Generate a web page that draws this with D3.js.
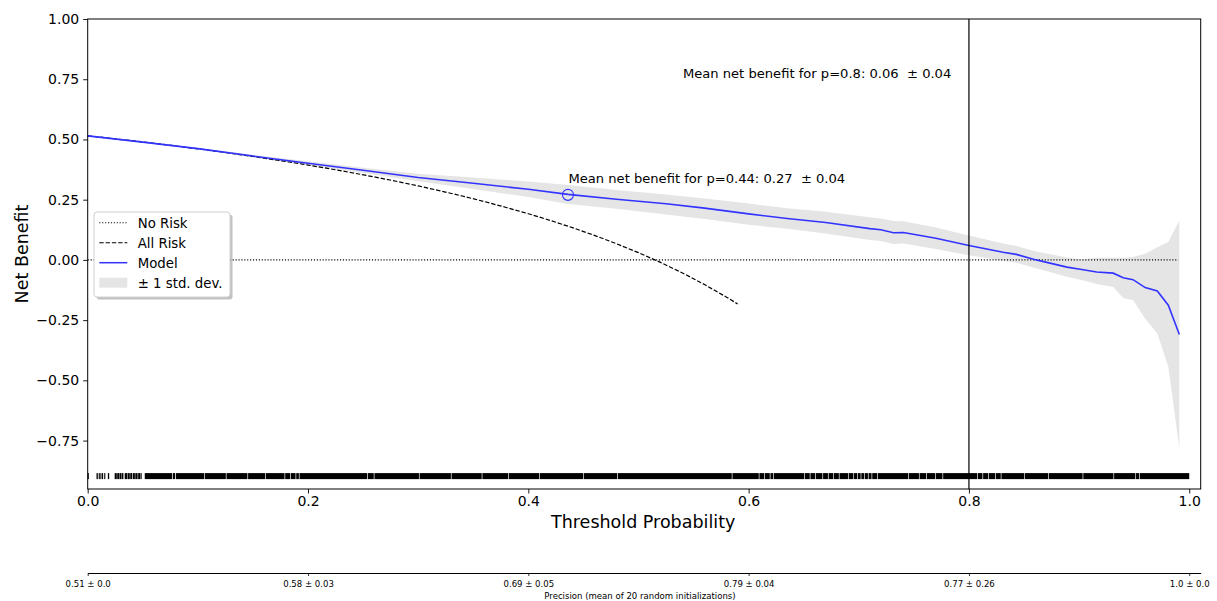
<!DOCTYPE html>
<html>
<head>
<meta charset="utf-8">
<script src="https://cdn.jsdelivr.net/npm/d3@7"></script>
<style>
  body { margin: 0; background: #fff; }
  svg { font-family: "DejaVu Sans", sans-serif; }
  text { white-space: pre; }
</style>
</head>
<body>
<div id="chart"></div>
<script>
// Model net benefit (mean of runs) with +/- 1 std band
const thresholds = [0, 0.05, 0.1, 0.15, 0.2, 0.25, 0.3, 0.35, 0.4, 0.436, 0.48, 0.525, 0.56, 0.6, 0.635, 0.67, 0.71, 0.72, 0.7315, 0.7405, 0.77, 0.8, 0.831, 0.843, 0.861, 0.889, 0.901, 0.916, 0.931, 0.94, 0.949, 0.96, 0.971, 0.981, 0.991];
const modelNB = [0.515, 0.489, 0.462, 0.431, 0.401, 0.372, 0.342, 0.318, 0.293, 0.272, 0.252, 0.233, 0.215, 0.191, 0.172, 0.155, 0.13, 0.125, 0.113, 0.114, 0.09, 0.06, 0.032, 0.023, 0.0, -0.03, -0.039, -0.05, -0.055, -0.074, -0.082, -0.115, -0.129, -0.188, -0.31];
const upperNB = [0.517, 0.491, 0.465, 0.436, 0.409, 0.383, 0.358, 0.342, 0.325, 0.311, 0.29, 0.271, 0.255, 0.234, 0.214, 0.2, 0.177, 0.172, 0.162, 0.16, 0.135, 0.101, 0.068, 0.058, 0.035, 0.01, 0.002, 0.009, 0.009, 0.009, 0.012, 0.026, 0.053, 0.074, 0.164];
const lowerNB = [0.513, 0.487, 0.459, 0.426, 0.393, 0.361, 0.326, 0.294, 0.261, 0.232, 0.212, 0.188, 0.17, 0.146, 0.129, 0.11, 0.083, 0.078, 0.066, 0.068, 0.045, 0.019, -0.004, -0.012, -0.035, -0.07, -0.082, -0.1, -0.113, -0.158, -0.168, -0.244, -0.306, -0.444, -0.782];

// "treat all" curve
const allRiskT = [0, 0.02, 0.04, 0.06, 0.08, 0.1, 0.12, 0.14, 0.16, 0.18, 0.2, 0.22, 0.24, 0.26, 0.28, 0.3, 0.32, 0.34, 0.36, 0.38, 0.4, 0.42, 0.44, 0.46, 0.48, 0.5, 0.52, 0.54, 0.56, 0.58, 0.59];
const allRiskNB = [0.515, 0.505, 0.4948, 0.484, 0.4728, 0.4611, 0.4489, 0.436, 0.4226, 0.4085, 0.3938, 0.3782, 0.3618, 0.3446, 0.3264, 0.3071, 0.2868, 0.2652, 0.2422, 0.2177, 0.1917, 0.1638, 0.1339, 0.1019, 0.0673, 0.03, -0.0104, -0.0543, -0.1023, -0.1548, -0.1829];

// "treat none" line
const noRiskT = [0, 0.99];
const noRiskNB = [0, 0];

// rug of predictions, as runs of dense ticks [from, to]
const rugBlocks = [
  [0.0, 0.001],
  [0.008, 0.0092], [0.01, 0.011], [0.0115, 0.0125], [0.013, 0.014], [0.015, 0.016], [0.0183, 0.0195],
  [0.0245, 0.0264], [0.0268, 0.0287], [0.029, 0.0307], [0.031, 0.0324],
  [0.0336, 0.0358], [0.0362, 0.0382], [0.0386, 0.0404], [0.041, 0.0428], [0.0432, 0.0453], [0.0458, 0.0477], [0.048, 0.049],
  [0.0518, 0.0765], [0.0772, 0.0793], [0.08, 0.1058], [0.1064, 0.1254], [0.126, 0.145], [0.1456, 0.161],
  [0.1616, 0.1787], [0.1793, 0.1837], [0.1843, 0.1887], [0.1893, 0.1917], [0.1923, 0.2537], [0.2543, 0.2597],
  [0.2603, 0.3007], [0.3013, 0.3297], [0.3303, 0.3577], [0.3583, 0.3817], [0.3823, 0.4097], [0.4103, 0.4497],
  [0.4503, 0.4807], [0.4813, 0.5847], [0.5853, 0.6092], [0.6098, 0.6142], [0.6148, 0.6192], [0.6198, 0.6224],
  [0.623, 0.6505], [0.6511, 0.6555], [0.6561, 0.6605], [0.6611, 0.667], [0.6676, 0.672], [0.6726, 0.6769],
  [0.6775, 0.6819], [0.6825, 0.6902], [0.6908, 0.6951], [0.6957, 0.6984], [0.699, 0.7017], [0.7023, 0.705],
  [0.7056, 0.7083], [0.7089, 0.7116], [0.7122, 0.7166], [0.7172, 0.7447], [0.7453, 0.7546], [0.7552, 0.7612],
  [0.7618, 0.7695], [0.7701, 0.776], [0.7766, 0.8074], [0.808, 0.8123], [0.8129, 0.8173], [0.8179, 0.8239],
  [0.8245, 0.8289], [0.8295, 0.8503], [0.8509, 0.8718], [0.8724, 0.9032], [0.9038, 0.9312], [0.9318, 0.9511],
  [0.9517, 0.9544], [0.955, 1.0]
];
const rugRange = [-0.885, -0.91];

// annotations
const markT = 0.436, markNB = 0.27;
const markLabel = "Mean net benefit for p=0.44: 0.27  \u00b1 0.04";
const cutT = 0.8;
const cutLabel = "Mean net benefit for p=0.8: 0.06  \u00b1 0.04";

// axes
const xTicks = [0, 0.2, 0.4, 0.6, 0.8, 1.0];
const yTicks = [-0.75, -0.5, -0.25, 0, 0.25, 0.5, 0.75, 1.0];
const precisionLabels = ["0.51 \u00b1 0.0", "0.58 \u00b1 0.03", "0.69 \u00b1 0.05", "0.79 \u00b1 0.04", "0.77 \u00b1 0.26", "1.0 \u00b1 0.0"];

const W = 1217, H = 601;
const plot = { left: 87.7, right: 1200.7, top: 19, bottom: 489 };

const svg = d3.select("#chart").append("svg")
  .attr("width", W).attr("height", H);

const x = d3.scaleLinear().domain([0, 1.0104]).range([plot.left, plot.right]);
const y = d3.scaleLinear().domain([-0.951, 1.0]).range([plot.bottom, plot.top]);

const fmt = d => d3.format(".2f")(d).replace("-", "\u2212");

// std band
const band = thresholds.map((t, i) => ({ t, lo: lowerNB[i], hi: upperNB[i] }));
svg.append("path")
  .datum(band)
  .attr("fill", "#e5e5e5")
  .attr("d", d3.area().x(d => x(d.t)).y0(d => y(d.lo)).y1(d => y(d.hi)));

// rug
svg.append("g")
  .selectAll("rect")
  .data(rugBlocks)
  .join("rect")
  .attr("x", d => x(d[0]))
  .attr("width", d => Math.max(0.9, x(d[1]) - x(d[0])))
  .attr("y", y(rugRange[0]))
  .attr("height", y(rugRange[1]) - y(rugRange[0]))
  .attr("fill", "#000");

const line = d3.line().x(d => x(d[0])).y(d => y(d[1]));

// no risk
svg.append("path")
  .datum(noRiskT.map((t, i) => [t, noRiskNB[i]]))
  .attr("fill", "none").attr("stroke", "#000").attr("stroke-width", 1.1)
  .attr("stroke-dasharray", "1.1,1.8")
  .attr("d", line);

// all risk
svg.append("path")
  .datum(allRiskT.map((t, i) => [t, allRiskNB[i]]))
  .attr("fill", "none").attr("stroke", "#000").attr("stroke-width", 1.2)
  .attr("stroke-dasharray", "4.4,1.9")
  .attr("d", line);

// model
svg.append("path")
  .datum(thresholds.map((t, i) => [t, modelNB[i]]))
  .attr("fill", "none").attr("stroke", "#3333ff").attr("stroke-width", 1.6)
  .attr("d", line);

// marker + labels
svg.append("circle")
  .attr("cx", x(markT)).attr("cy", y(markNB)).attr("r", 5.5)
  .attr("fill", "none").attr("stroke", "#3333ff").attr("stroke-width", 1.1);
svg.append("text")
  .attr("x", x(markT) + 0.5).attr("y", y(markNB) - 12)
  .attr("font-size", 13.1).text(markLabel);

svg.append("line")
  .attr("x1", x(cutT)).attr("x2", x(cutT))
  .attr("y1", plot.top).attr("y2", plot.bottom)
  .attr("stroke", "#000").attr("stroke-width", 1.2);
svg.append("text")
  .attr("x", x(cutT) - 286).attr("y", 78)
  .attr("font-size", 13.1).text(cutLabel);

// y axis
const yAxis = svg.append("g")
  .attr("transform", `translate(${plot.left},0)`)
  .call(d3.axisLeft(y).tickValues(yTicks).tickFormat(fmt).tickSize(4.5).tickPadding(4).tickSizeOuter(0));
yAxis.select(".domain").remove();
yAxis.selectAll("text").attr("font-size", 14).attr("font-family", "DejaVu Sans").attr("fill", "#000");
yAxis.selectAll("line").attr("stroke", "#000").attr("stroke-width", 0.9);

// x axis
const xAxis = svg.append("g")
  .attr("transform", `translate(0,${plot.bottom})`)
  .call(d3.axisBottom(x).tickValues(xTicks).tickFormat(d3.format(".1f")).tickSize(4.5).tickPadding(3).tickSizeOuter(0));
xAxis.select(".domain").remove();
xAxis.selectAll("text").attr("font-size", 14).attr("font-family", "DejaVu Sans").attr("fill", "#000");
xAxis.selectAll("line").attr("stroke", "#000").attr("stroke-width", 0.9);

// frame
svg.append("rect")
  .attr("x", plot.left).attr("y", plot.top)
  .attr("width", plot.right - plot.left).attr("height", plot.bottom - plot.top)
  .attr("fill", "none").attr("stroke", "#000").attr("stroke-width", 1);

// axis titles
svg.append("text")
  .attr("x", (plot.left + plot.right) / 2 - 1).attr("y", 528)
  .attr("text-anchor", "middle").attr("font-size", 17.5)
  .text("Threshold Probability");
svg.append("text")
  .attr("transform", `translate(28,${(plot.top + plot.bottom) / 2}) rotate(-90)`)
  .attr("text-anchor", "middle").attr("font-size", 17.5)
  .text("Net Benefit");

// secondary axis for precision
const pAxis = svg.append("g")
  .attr("transform", "translate(0,573)")
  .call(d3.axisBottom(x).tickValues(xTicks).tickFormat((d, i) => precisionLabels[i]).tickSize(3).tickPadding(4).tickSizeOuter(0));
pAxis.select(".domain").attr("stroke", "#000").attr("stroke-width", 1);
pAxis.selectAll("text").attr("font-size", 9.5).attr("font-family", "DejaVu Sans Condensed, DejaVu Sans")
  .attr("font-stretch", "condensed").attr("fill", "#000");
pAxis.selectAll("line").attr("stroke", "#000").attr("stroke-width", 0.8);
svg.append("text")
  .attr("x", 640).attr("y", 599)
  .attr("text-anchor", "middle").attr("font-size", 9.5)
  .attr("font-family", "DejaVu Sans Condensed, DejaVu Sans")
  .attr("font-stretch", "condensed")
  .text("Precision (mean of 20 random initializations)");

// legend
const legend = svg.append("g").attr("transform", "translate(94,212)");
legend.append("rect")
  .attr("x", 2.5).attr("y", 2.5).attr("width", 136).attr("height", 85).attr("rx", 3)
  .attr("fill", "#9a9a9a").attr("opacity", 0.6);
legend.append("rect")
  .attr("x", 0).attr("y", 0).attr("width", 136).attr("height", 85).attr("rx", 3)
  .attr("fill", "#fff").attr("stroke", "#d0d0d0").attr("stroke-width", 1);

const legendItems = [
  { label: "No Risk", kind: "dot" },
  { label: "All Risk", kind: "dash" },
  { label: "Model", kind: "model" },
  { label: "\u00b1 1 std. dev.", kind: "band" }
];
const rows = legend.selectAll("g.row")
  .data(legendItems)
  .join("g")
  .attr("class", "row")
  .attr("transform", (d, i) => `translate(0,${10.7 + i * 20})`);
rows.each(function (d) {
  const g = d3.select(this);
  if (d.kind === "band") {
    g.append("rect").attr("x", 5.3).attr("y", -5).attr("width", 28).attr("height", 10).attr("fill", "#e5e5e5");
  } else {
    g.append("line").attr("x1", 5.3).attr("x2", 33.3).attr("y1", 0).attr("y2", 0)
      .attr("stroke", d.kind === "model" ? "#3333ff" : "#000")
      .attr("stroke-width", d.kind === "model" ? 1.5 : 1.1)
      .attr("stroke-dasharray", d.kind === "dot" ? "1.1,1.8" : d.kind === "dash" ? "4.4,1.9" : null);
  }
  g.append("text").attr("x", 43.7).attr("y", 4.8).attr("font-size", 13.3).text(d.label);
});
</script>
</body>
</html>
